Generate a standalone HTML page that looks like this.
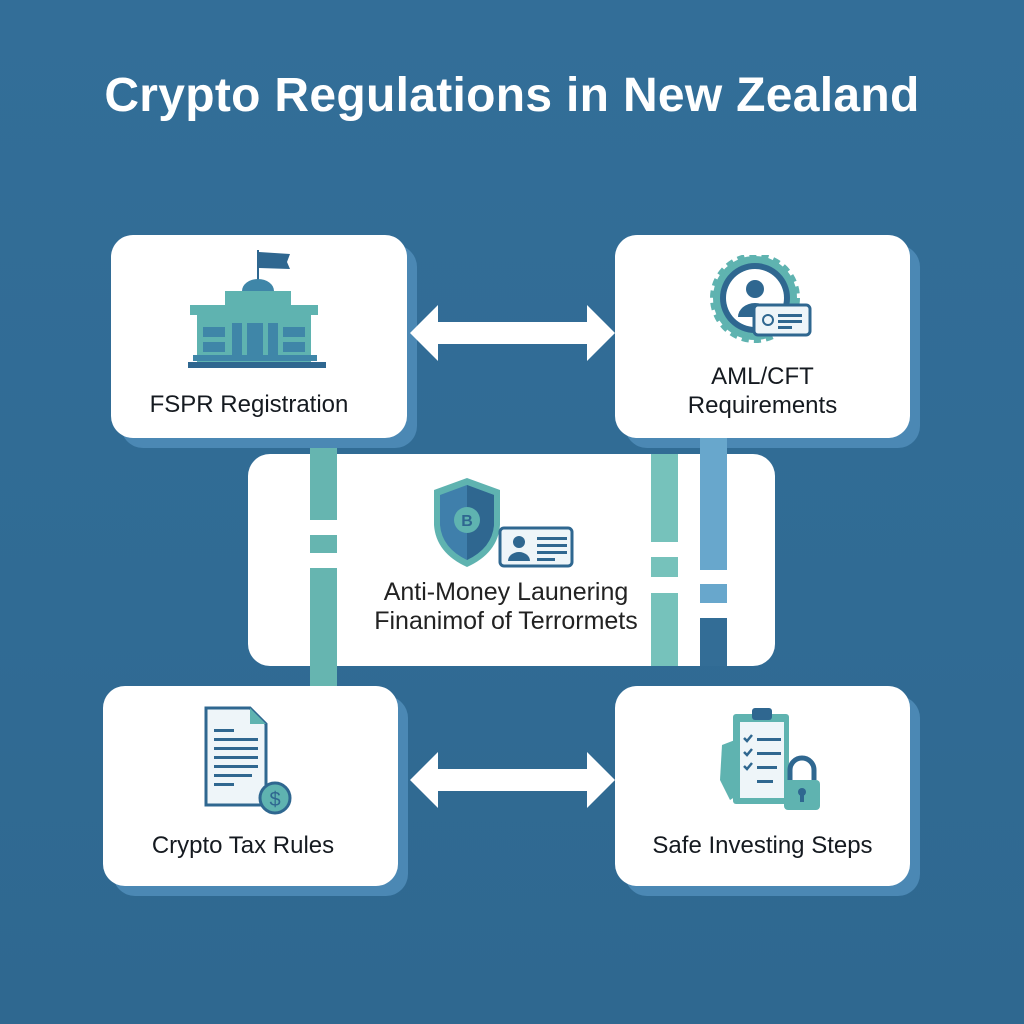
<!DOCTYPE html>
<html><head><meta charset="utf-8"><style>
html,body{margin:0;padding:0}
body{width:1024px;height:1024px;position:relative;overflow:hidden;background:linear-gradient(180deg,#336e98 0%,#306b94 60%,#2f6890 100%);font-family:"Liberation Sans",sans-serif}
.a{position:absolute}
.box{position:absolute;background:#fff;border-radius:22px;box-shadow:10px 10px 0 #4b88b4}
.t{position:absolute;text-align:center;color:#151a20;font-size:24px;line-height:29px}
</style></head><body>
<div class="a" style="left:0;top:68px;width:1024px;text-align:center;color:#fff;font-size:48px;font-weight:bold;letter-spacing:0.3px">Crypto Regulations in New Zealand</div>

<div class="a" style="left:310px;top:430px;width:27px;height:262px;background:#66b5b0"></div>

<div class="box" style="left:111px;top:235px;width:296px;height:203px"></div>
<div class="box" style="left:615px;top:235px;width:295px;height:203px"></div>
<div class="box" style="left:248px;top:454px;width:527px;height:212px;box-shadow:none"></div>
<div class="box" style="left:103px;top:686px;width:295px;height:200px"></div>
<div class="box" style="left:615px;top:686px;width:295px;height:200px"></div>

<div class="a" style="left:310px;top:454px;width:27px;height:212px;background:#66b5b0"></div>
<div class="a" style="left:310px;top:520px;width:27px;height:15px;background:#fff"></div>
<div class="a" style="left:310px;top:553px;width:27px;height:15px;background:#fff"></div>
<div class="a" style="left:651px;top:454px;width:27px;height:212px;background:#76c2bb"></div>
<div class="a" style="left:651px;top:542px;width:27px;height:15px;background:#fff"></div>
<div class="a" style="left:651px;top:577px;width:27px;height:16px;background:#fff"></div>
<div class="a" style="left:700px;top:438px;width:27px;height:132px;background:#68a7cc"></div>
<div class="a" style="left:700px;top:584px;width:27px;height:19px;background:#68a7cc"></div>
<div class="a" style="left:700px;top:618px;width:27px;height:48px;background:#336d96"></div>

<svg class="a" style="left:405px;top:300px" width="215" height="66"><polygon points="5,33 33,5 33,22 182,22 182,5 210,33 182,61 182,44 33,44 33,61" fill="#fff"/></svg>
<svg class="a" style="left:405px;top:747px" width="215" height="66"><polygon points="5,33 33,5 33,22 182,22 182,5 210,33 182,61 182,44 33,44 33,61" fill="#fff"/></svg>

<svg class="a" style="left:185px;top:245px" width="145" height="130">
<line x1="73" y1="5" x2="73" y2="40" stroke="#2f6790" stroke-width="2"/>
<polygon points="74,7 105,9 102,17 105,24 74,23" fill="#2f6790"/>
<path d="M57,46 a16,12 0 0 1 32,0 z" fill="#3f86a8"/>
<rect x="40" y="46" width="66" height="16" fill="#5fb3b0"/>
<rect x="5" y="60" width="128" height="10" fill="#5fb3b0"/>
<rect x="12" y="70" width="114" height="52" fill="#5fb3b0"/>
<rect x="18" y="82" width="22" height="10" fill="#3f86a8"/><rect x="18" y="97" width="22" height="10" fill="#3f86a8"/>
<rect x="98" y="82" width="22" height="10" fill="#3f86a8"/><rect x="98" y="97" width="22" height="10" fill="#3f86a8"/>
<rect x="47" y="78" width="10" height="32" fill="#3f86a8"/><rect x="62" y="78" width="16" height="32" fill="#3f86a8"/><rect x="83" y="78" width="10" height="32" fill="#3f86a8"/>
<rect x="8" y="110" width="124" height="6" fill="#3f86a8"/>
<rect x="3" y="117" width="138" height="6" fill="#2f6790"/>
</svg>
<div class="t" style="left:111px;top:390px;width:276px">FSPR Registration</div>

<svg class="a" style="left:710px;top:255px" width="110" height="90">
<circle cx="45" cy="43" r="42" fill="#5fb3b0" stroke="#5fb3b0" stroke-width="6" stroke-dasharray="7 5"/>
<circle cx="45" cy="43" r="35" fill="#2f6790"/>
<circle cx="45" cy="43" r="29" fill="#fff"/>
<circle cx="45" cy="34" r="9" fill="#2f6790"/>
<path d="M28,62 a17,14 0 0 1 34,0 z" fill="#2f6790"/>
<rect x="44" y="50" width="56" height="30" rx="4" fill="#eef5f9" stroke="#2f6790" stroke-width="3"/>
<circle cx="58" cy="65" r="5" fill="none" stroke="#2f6790" stroke-width="2"/>
<rect x="68" y="59" width="24" height="3" fill="#2f6790"/><rect x="68" y="65" width="24" height="3" fill="#2f6790"/><rect x="68" y="71" width="14" height="3" fill="#2f6790"/>
</svg>
<div class="t" style="left:615px;top:362px;width:295px">AML/CFT<br>Requirements</div>

<svg class="a" style="left:430px;top:475px" width="150" height="95">
<path d="M37,3 L70,15 L70,50 Q68,78 37,92 Q6,78 4,50 L4,15 Z" fill="#5fb3b0"/>
<path d="M37,10 L64,20 L64,50 Q62,73 37,85 Q12,73 10,50 L10,20 Z" fill="#3f7fab"/>
<path d="M37,10 L64,20 L64,50 Q62,73 37,85 Z" fill="#2f6790"/>
<circle cx="37" cy="45" r="13" fill="#5fb3b0"/>
<text x="37" y="51" font-size="16" text-anchor="middle" fill="#2f6790" font-family="Liberation Sans" font-weight="bold">B</text>
<rect x="70" y="53" width="72" height="38" rx="4" fill="#eef5f9" stroke="#2f6790" stroke-width="3"/>
<circle cx="89" cy="67" r="6" fill="#2f6790"/><path d="M78,86 a11,9 0 0 1 22,0 z" fill="#2f6790"/>
<rect x="107" y="62" width="30" height="3" fill="#2f6790"/><rect x="107" y="69" width="30" height="3" fill="#2f6790"/><rect x="107" y="76" width="30" height="3" fill="#2f6790"/><rect x="107" y="83" width="18" height="3" fill="#2f6790"/>
</svg>
<div class="t" style="left:310px;top:578px;width:392px;font-size:25px;color:#222">Anti-Money Launering<br>Finanimof of Terrormets</div>

<svg class="a" style="left:200px;top:705px" width="110" height="110">
<path d="M6,3 L50,3 L66,19 L66,100 L6,100 Z" fill="#eef5f9" stroke="#2f6790" stroke-width="3"/>
<path d="M50,3 L50,19 L66,19 Z" fill="#5fb3b0"/>
<rect x="14" y="24" width="20" height="3" fill="#2f6790"/>
<g fill="#2f6790"><rect x="14" y="33" width="44" height="3"/><rect x="14" y="42" width="44" height="3"/><rect x="14" y="51" width="44" height="3"/><rect x="14" y="60" width="44" height="3"/><rect x="14" y="69" width="38" height="3"/><rect x="14" y="78" width="20" height="3"/></g>
<circle cx="75" cy="93" r="15" fill="#5fb3b0" stroke="#2f6790" stroke-width="3"/>
<text x="75" y="101" font-size="20" text-anchor="middle" fill="#2f6790" font-family="Liberation Sans">$</text>
</svg>
<div class="t" style="left:103px;top:831px;width:280px">Crypto Tax Rules</div>

<svg class="a" style="left:700px;top:700px" width="130" height="115">
<path d="M22,45 L35,40 L38,95 L30,100 L20,80 Z" fill="#5fb3b0"/>
<rect x="33" y="14" width="56" height="90" rx="3" fill="#5fb3b0"/>
<rect x="40" y="22" width="44" height="76" fill="#eef5f9"/>
<rect x="52" y="8" width="20" height="12" rx="3" fill="#2f6790"/>
<g stroke="#2f6790" stroke-width="2.5" fill="none"><path d="M44,38 l3,3 l5,-6"/><path d="M44,52 l3,3 l5,-6"/><path d="M44,66 l3,3 l5,-6"/></g>
<g fill="#2f6790"><rect x="57" y="38" width="24" height="3"/><rect x="57" y="52" width="24" height="3"/><rect x="57" y="66" width="20" height="3"/><rect x="57" y="80" width="16" height="3"/></g>
<path d="M90,80 v-10 a12,12 0 0 1 24,0 v10" stroke="#2f6790" stroke-width="5" fill="none"/>
<rect x="84" y="80" width="36" height="30" rx="4" fill="#5fb3b0"/>
<circle cx="102" cy="92" r="4" fill="#2f6790"/><rect x="100" y="94" width="4" height="8" fill="#2f6790"/>
</svg>
<div class="t" style="left:615px;top:831px;width:295px">Safe Investing Steps</div>
</body></html>
